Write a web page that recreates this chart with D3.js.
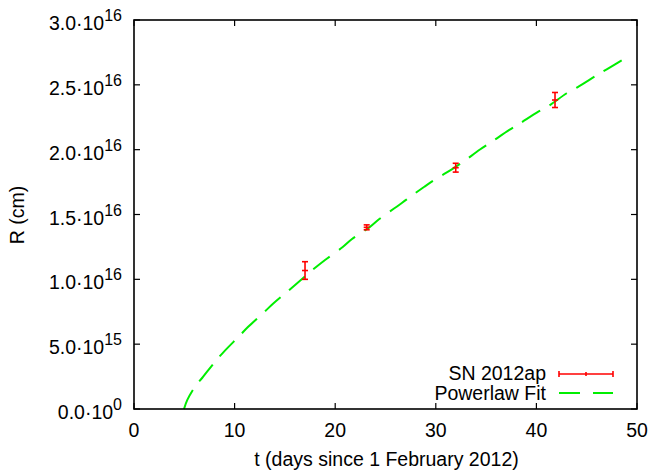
<!DOCTYPE html>
<html><head><meta charset="utf-8">
<script src="https://cdn.jsdelivr.net/npm/d3@7/dist/d3.min.js"></script>
<style>
body{margin:0;background:#fff;}
text{font-family:"Liberation Sans",Arial,Helvetica,sans-serif;fill:#000;}
</style></head>
<body><svg id="c" width="652" height="473"></svg>
<script>
// Observations (R in units of 1e16 cm)
const obsT = [17.0, 23.13, 31.98, 41.85];
const obsR = [1.068, 1.401, 1.861, 2.383];
const obsErr = [0.068, 0.019, 0.034, 0.058];
// Powerlaw fit curve
const fitT = [4.97, 5.3, 6.06, 6.79, 8.12, 8.88, 10.47, 11.30, 12.95, 13.79, 15.44, 16.33, 17.82, 18.99, 20.75, 21.64, 23.39, 24.35, 26.11, 27.11, 28.86, 29.85, 31.74, 32.73, 34.39, 35.56, 37.31, 38.37, 40.19, 41.25, 43.01, 44.07, 45.92, 46.99, 48.81, 49.0];
const fitR = [0.0, 0.07, 0.172, 0.241, 0.370, 0.437, 0.563, 0.630, 0.748, 0.810, 0.918, 0.977, 1.077, 1.149, 1.249, 1.309, 1.401, 1.463, 1.560, 1.617, 1.714, 1.766, 1.856, 1.907, 2.001, 2.061, 2.152, 2.203, 2.293, 2.339, 2.435, 2.481, 2.570, 2.620, 2.705, 2.715];
const xTicks = [0, 10, 20, 30, 40, 50];
const yTicks = [0, 0.5, 1.0, 1.5, 2.0, 2.5, 3.0];
const yTickMant = ["0.0", "5.0", "1.0", "1.5", "2.0", "2.5", "3.0"];
const yTickExp = ["0", "15", "16", "16", "16", "16", "16"];
const seriesNames = ["SN 2012ap", "Powerlaw Fit"];
const xLabel = "t (days since 1 February 2012)";
const yLabel = "R (cm)";

const L = 134, R = 637, T = 20, B = 409;
const svg = d3.select("#c");
const x = d3.scaleLinear().domain([0, 50]).range([L, R]);
const y = d3.scaleLinear().domain([0, 3.0]).range([B, T]);
const red = "#ff0000", green = "#00ee00";
const fs = 19.5;

// ticks (inward, mirrored)
const tl = 6;
const gAxes = svg.append("g").attr("stroke", "#000").attr("stroke-width", 1.2);
xTicks.forEach(v => {
  gAxes.append("line").attr("x1", x(v)).attr("x2", x(v)).attr("y1", B).attr("y2", B - tl);
  gAxes.append("line").attr("x1", x(v)).attr("x2", x(v)).attr("y1", T).attr("y2", T + tl);
});
yTicks.forEach(v => {
  gAxes.append("line").attr("x1", L).attr("x2", L + tl).attr("y1", y(v)).attr("y2", y(v));
  gAxes.append("line").attr("x1", R).attr("x2", R - tl).attr("y1", y(v)).attr("y2", y(v));
});

// x tick labels
xTicks.forEach(v => {
  svg.append("text").attr("x", x(v)).attr("y", B + 28).attr("text-anchor", "middle")
    .attr("font-size", fs).text(v);
});
// y tick labels
yTicks.forEach((v, i) => {
  const t = svg.append("text").attr("x", L - 12).attr("y", y(v) + 10).attr("text-anchor", "end").attr("font-size", fs);
  t.append("tspan").text(yTickMant[i] + "\u00B710");
  t.append("tspan").attr("dy", -9).attr("font-size", 16).text(yTickExp[i]);
});

// axis labels
svg.append("text").attr("x", (L + R) / 2 + 1).attr("y", 466).attr("text-anchor", "middle").attr("font-size", fs).text(xLabel);
svg.append("text").attr("transform", "translate(24,215) rotate(-90)").attr("text-anchor", "middle").attr("font-size", fs).text(yLabel);

// fit line
const line = d3.line().x((d, i) => x(fitT[i])).y((d, i) => y(fitR[i])).curve(d3.curveCatmullRom);
svg.append("path").datum(fitT).attr("d", line).attr("fill", "none").attr("stroke", green)
  .attr("stroke-width", 2).attr("stroke-dasharray", "21,11");

// error bars
const cap = 3;
const gE = svg.append("g").attr("stroke", red).attr("stroke-width", 1.6);
obsT.forEach((t, i) => {
  const cx = x(t), y1 = y(obsR[i] + obsErr[i]), y0 = y(obsR[i] - obsErr[i]), cy = y(obsR[i]);
  gE.append("line").attr("x1", cx).attr("x2", cx).attr("y1", y0).attr("y2", y1);
  gE.append("line").attr("x1", cx - cap).attr("x2", cx + cap).attr("y1", y0).attr("y2", y0);
  gE.append("line").attr("x1", cx - cap).attr("x2", cx + cap).attr("y1", y1).attr("y2", y1);
  gE.append("line").attr("x1", cx - 3).attr("x2", cx + 3).attr("y1", cy).attr("y2", cy);
});

// border
svg.append("rect").attr("x", L).attr("y", T).attr("width", R - L).attr("height", B - T)
  .attr("fill", "none").attr("stroke", "#000").attr("stroke-width", 1.6);

// legend
const lx0 = 559, lx1 = 613;
svg.append("text").attr("x", 546).attr("y", 380).attr("text-anchor", "end").attr("font-size", fs).text(seriesNames[0]);
svg.append("text").attr("x", 546).attr("y", 400).attr("text-anchor", "end").attr("font-size", fs).text(seriesNames[1]);
const gl = svg.append("g").attr("stroke", red).attr("stroke-width", 1.6);
gl.append("line").attr("x1", lx0).attr("x2", lx1).attr("y1", 374).attr("y2", 374);
[lx0, lx1].forEach(px => gl.append("line").attr("x1", px).attr("x2", px).attr("y1", 371).attr("y2", 377));
gl.append("line").attr("x1", 586).attr("x2", 586).attr("y1", 372).attr("y2", 376);
svg.append("line").attr("x1", lx0).attr("x2", lx1).attr("y1", 393).attr("y2", 393)
  .attr("stroke", green).attr("stroke-width", 2).attr("stroke-dasharray", "21,13");
</script></body></html>
